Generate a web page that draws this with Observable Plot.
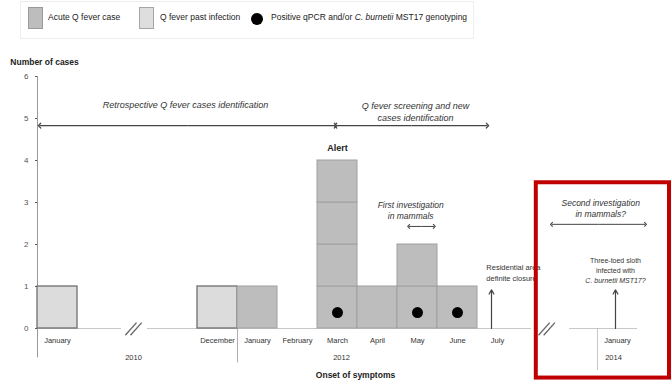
<!DOCTYPE html>
<html><head><meta charset="utf-8">
<script src="https://cdn.jsdelivr.net/npm/d3@7"></script>
<script src="https://cdn.jsdelivr.net/npm/@observablehq/plot@0.6"></script>
<style>
body{margin:0;background:#fff;font-family:"Liberation Sans",Arial,sans-serif;}
#wrap{position:relative;width:671px;height:380px;overflow:hidden;}
#legend{position:absolute;left:0;top:0;width:671px;height:40px;font-size:8.5px;color:#222;}
#legend .box{position:absolute;left:20px;top:1px;width:452px;height:36px;border:1px solid #eee;}
#legend .sw{position:absolute;top:7px;width:15px;height:22px;box-sizing:border-box;}
#legend .dot{position:absolute;top:13px;width:12px;height:12px;border-radius:50%;background:#000;}
#legend .lab{position:absolute;top:12px;white-space:nowrap;}
#chart{position:absolute;left:0;top:40px;}
</style></head><body>
<div id="wrap">
  <div id="legend">
    <div class="box"></div>
    <div class="sw" style="left:28px;background:#bdbdbd;border:1px solid #9a9a9a"></div>
    <div class="lab" style="left:48px">Acute Q fever case</div>
    <div class="sw" style="left:139px;background:#dedede;border:1px solid #a5a5a5"></div>
    <div class="lab" style="left:160px">Q fever past infection</div>
    <div class="dot" style="left:251px"></div>
    <div class="lab" style="left:271px">Positive qPCR and/or <i>C. burnetii</i> MST17 genotyping</div>
  </div>
  <div id="chart"></div>
</div>
<script>
// ---- data ----
const monthLabels = ["January","December","January","February","March","April","May","June","July","January"];
const monthSlots  = [0, 4, 5, 6, 7, 8, 9, 10, 11, 14];
const caseCounts  = [1, 1, 1, 0, 4, 1, 2, 1, 0, 0];
const caseTypes   = ["past","past","acute","acute","acute","acute","acute","acute","acute","acute"];
const positiveSlots = [7, 9, 10];
const yearLabels  = ["2010", "2012", "2014"];
const yearSlots   = [2.4, 7.6, 14.4];
const yTicks      = [0, 1, 2, 3, 4, 5, 6];

// ---- derived tables ----
const cells = [];
monthSlots.forEach((s, i) => {
  for (let k = 0; k < caseCounts[i]; k++) cells.push({x1: s, x2: s + 1, y1: k, y2: k + 1, type: caseTypes[i]});
});
const months = monthLabels.map((m, i) => ({label: m, x: monthSlots[i] + 0.5}));
const years = yearLabels.map((y, i) => ({label: y, x: yearSlots[i]}));
const dots = positiveSlots.map(s => ({x: s + 0.5, y: 0.38}));
const baseline = [{x1: 0, x2: 2.1}, {x1: 2.75, x2: 12.35}, {x1: 13.3, x2: 15.0}];
const breakCenters = [2.4, 12.73];
const slashes = [];
breakCenters.forEach(c => [-0.065, 0.065].forEach(o => slashes.push({x1: c + o - 0.14, x2: c + o + 0.14, y1: -0.16, y2: 0.14})));

// double-headed arrows: split each at its midpoint into two outward arrows
const spans = [
  {a: 0.05, b: 7.45, y: 4.83, w: 1.2},
  {a: 7.45, b: 11.25, y: 4.83, w: 1.2},
  {a: 9.28, b: 9.92, y: 2.43, w: 1},
  {a: 12.85, b: 15.2, y: 2.48, w: 1}
];
const halfArrows = spans.flatMap(s => {
  const m = (s.a + s.b) / 2;
  return [{x1: m, x2: s.a, y: s.y, w: s.w}, {x1: m, x2: s.b, y: s.y, w: s.w}];
});

const fillOf = t => t === "past" ? "#dcdcdc" : "#bdbdbd";
const strokeOf = t => t === "past" ? "#6f6f6f" : "#a0a0a0";

const FONT = "Liberation Sans, Arial, sans-serif";

const plot = Plot.plot({
  width: 671, height: 340,
  marginLeft: 37, marginRight: 0, marginTop: 36, marginBottom: 52,
  style: {fontFamily: FONT, fontSize: "8px", color: "#555", background: "#fff", overflow: "visible"},
  x: {domain: [0, 15.85], axis: null},
  y: {domain: [0, 6], ticks: yTicks, tickSize: 2, tickPadding: 7, tickFormat: d3.format("d"), label: null},
  marks: [
    // baseline
    Plot.ruleY(baseline, {y: 0, x1: "x1", x2: "x2", stroke: "#c8c8c8", strokeWidth: 1.2}),
    // y-axis line
    Plot.ruleX([0], {y1: -0.7, y2: 6, stroke: "#999", strokeWidth: 1}),
    // separators under axis
    Plot.ruleX([5], {y1: 0, y2: -0.82, stroke: "#999", strokeWidth: 0.8}),
    Plot.ruleX([14], {y1: 0, y2: -1.0, stroke: "#bbb", strokeWidth: 0.8}),
    // bars (unit cells)
    Plot.rect(cells, {x1: "x1", x2: "x2", y1: "y1", y2: "y2",
      fill: d => fillOf(d.type), stroke: d => strokeOf(d.type), strokeWidth: d => d.type === "past" ? 1.3 : 1}),
    // positive dots
    Plot.dot(dots, {x: "x", y: "y", r: 5.5, fill: "#000"}),
    // break marks
    Plot.link(slashes, {x1: "x1", x2: "x2", y1: "y1", y2: "y2", stroke: "#666", strokeWidth: 1.3}),
    // month and year labels
    Plot.text(months, {x: "x", y: -0.29, text: "label", fontSize: 7.5, fill: "#333"}),
    Plot.text(years, {x: "x", y: -0.69, text: "label", fontSize: 7.5, fill: "#333"}),
    Plot.text(["Onset of symptoms"], {x: 7.95, y: -1.12, fontSize: 8.5, fontWeight: "bold", fill: "#222"}),
    Plot.text(["Number of cases"], {x: -0.68, y: 6.33, textAnchor: "start", fontSize: 8.5, fontWeight: "bold", fill: "#222"}),
    // double arrows
    Plot.link(halfArrows, {x1: "x1", x2: "x2", y1: "y", y2: "y", stroke: "#444", strokeWidth: "w", markerEnd: "arrow"}),
    Plot.text(["Retrospective Q fever cases identification"], {x: 3.7, y: 5.31, fontSize: 9, fontStyle: "italic", fill: "#333"}),
    Plot.text(["Q fever screening and new", "cases identification"], {x: 9.45, y: (d, i) => 5.29 - i * 0.27, fontSize: 9, fontStyle: "italic", fill: "#333"}),
    Plot.text(["Alert"], {x: 7.5, y: 4.29, fontSize: 9, fontWeight: "bold", fill: "#222"}),
    // first investigation
    Plot.text(["First investigation", "in mammals"], {x: 9.33, y: (d, i) => 2.93 - i * 0.26, fontSize: 8.5, fontStyle: "italic", fill: "#333"}),
    // residential area closure
    Plot.text(["Residential area", "definite closure"], {x: 11.22, y: (d, i) => 1.45 - i * 0.26, textAnchor: "start", fontSize: 7.5, fill: "#333"}),
    Plot.arrow([{x: 11.35}], {x1: "x", x2: "x", y1: 0, y2: 0.92, stroke: "#444", strokeWidth: 1.2, headLength: 6}),
    // second investigation
    Plot.text(["Second investigation", "in mammals?"], {x: 14.08, y: (d, i) => 2.98 - i * 0.26, fontSize: 8.5, fontStyle: "italic", fill: "#333"}),
    Plot.text(["Three-toed sloth", "infected with"], {x: 14.45, y: (d, i) => 1.62 - i * 0.24, fontSize: 7, fill: "#333"}),
    Plot.text(["C. burnetii MST17?"], {x: 14.45, y: 1.14, fontSize: 7, fontStyle: "italic", fill: "#333"}),
    Plot.arrow([{x: 14.45}], {x1: "x", x2: "x", y1: 0, y2: 0.92, stroke: "#444", strokeWidth: 1.2, headLength: 6}),
    // highlight box
    Plot.rect([{x1: 12.47, x2: 15.8, y1: -1.18, y2: 3.47}], {x1: "x1", x2: "x2", y1: "y1", y2: "y2",
      fill: "none", stroke: "#c00000", strokeWidth: 4})
  ]
});
document.getElementById("chart").appendChild(plot);
</script>
</body></html>
